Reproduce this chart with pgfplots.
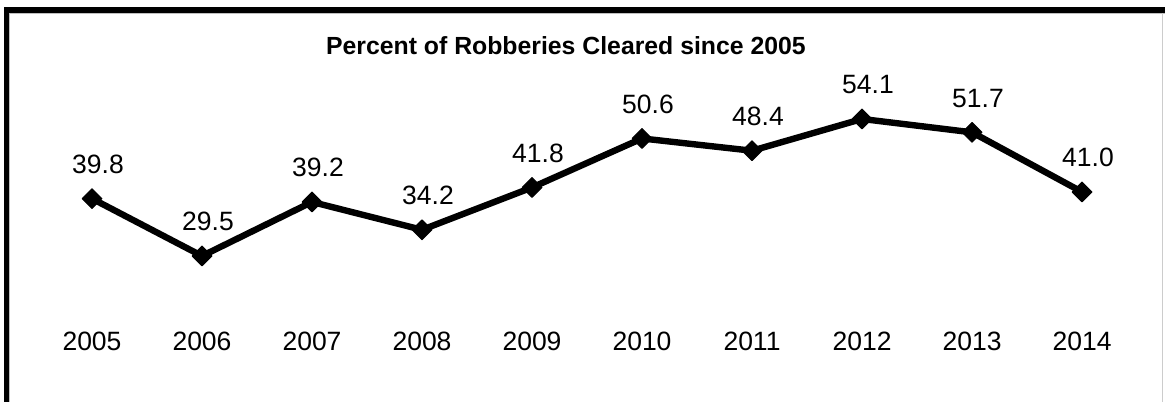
\documentclass[border=0pt]{standalone}
\usepackage{fontspec}
\setmainfont{Liberation Sans}
\usepackage{pgfplots}
\pgfplotsset{compat=1.18}
\begin{document}
\begin{tikzpicture}
\useasboundingbox (0,0) rectangle (582.5pt,201pt);
\begin{axis}[
  at={(0,0)}, anchor=south west,
  width=582.5pt, height=201pt, scale only axis,
  xmin=-0.8364, xmax=9.7545, ymin=3.285, ymax=75.46,
  axis line style={draw=none},
  tick style={draw=none},
  major tick length=0pt,
  ytick=\empty,
  xtick={0,1,2,3,4,5,6,7,8,9},
  xticklabels={2005,2006,2007,2008,2009,2010,2011,2012,2013,2014},
  x tick label style={anchor=base, yshift=25.65pt, font=\fontsize{13.25}{15}\selectfont},
  title={Percent of Robberies Cleared since 2005},
  title style={at={(rel axis cs:0.4858,0.868)}, anchor=base, yshift=-6.5pt, font=\fontsize{12.4}{14}\selectfont\bfseries},
  clip=false,
  nodes near coords,
  every node near coord/.append style={anchor=base, xshift=3pt, yshift=12.5pt, font=\fontsize{13.25}{15}\selectfont, text=black},
  /pgf/number format/.cd, fixed, fixed zerofill, precision=1, assume math mode=true,
]
\addplot[black, line width=3.2pt, line join=round, mark=square*,
  mark size=3.5pt, mark options={rotate=45, line width=0.5pt, fill=black}]
  coordinates {(0,39.8)(1,29.5)(2,39.2)(3,34.2)(4,41.8)(5,50.6)(6,48.4)(7,54.1)(8,51.7)(9,41.0)};
\end{axis}
% frame
\fill[gray!50] (4.5pt,0) rectangle (5pt,194.65pt);
\fill[gray!50] (4.5pt,194.15pt) rectangle (582.5pt,194.65pt);
\fill[black] (2pt,194.65pt) rectangle (582.5pt,197.5pt);
\fill[black] (2pt,0) rectangle (4.5pt,197.5pt);
\fill[gray!40] (581pt,0) rectangle (581.5pt,194.65pt);
\end{tikzpicture}
\end{document}
